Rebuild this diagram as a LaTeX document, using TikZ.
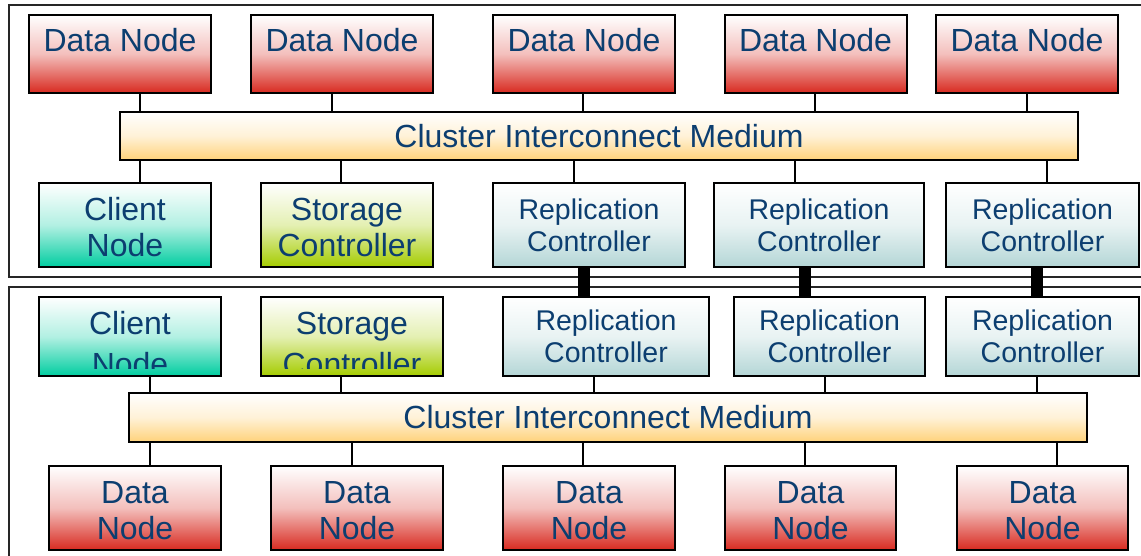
\documentclass[tikz,border=0pt]{standalone}
\usepackage{fontspec}
\setmainfont{Liberation Sans}
\usetikzlibrary{positioning}

\definecolor{ink}{RGB}{12,62,112}
\definecolor{dnred}{RGB}{216,42,32}
\definecolor{clientgreen}{RGB}{0,205,160}
\definecolor{storgreen}{RGB}{165,204,0}
\definecolor{repblue}{RGB}{180,214,214}
\definecolor{busorange}{RGB}{255,210,122}

\newcommand\boxfont{\fontsize{16}{18}\selectfont}
\newcommand\loosefont{\fontsize{16}{20.5}\selectfont}
\newcommand\repfont{\fontsize{14.25}{16}\selectfont}

\begin{document}
\begin{tikzpicture}[
        x=0.5pt, y=0.5pt,
        box/.style={draw, rectangle, line width=1pt, inner sep=0pt, align=center, text=ink, font=\boxfont},
        grad/.style={top color=white, bottom color=#1, middle color=#1!30},
        datanode/.style={box, grad=dnred, minimum width=86pt, minimum height=42pt, text height=32.1pt},
        datatop/.style={box, grad=dnred, minimum width=91pt, text height=18.5pt, text depth=20.5pt},
        client/.style={box, grad=clientgreen, text height=32.1pt},
        storage/.style={box, grad=storgreen, text height=32.1pt},
        repl/.style={box, grad=repblue, font=\repfont},
        bus/.style={box, grad=busorange, minimum width=479pt},
        txt/.style={inner sep=0pt, align=center, text=ink, font=\loosefont},
        frame/.style={draw=black!85, line width=1pt},
        link/.style={line width=0.7pt},
        sync/.style={line width=6pt}
    ]
        \clip (0,0) rectangle (1141,556);

        % Upper cluster
        \draw[frame] (9,551) rectangle (1170,279);
        \node[datatop] (dt1) at (120,502) {Data Node};
        \node[datatop] (dt2) at (342,502) {Data Node};
        \node[datatop] (dt3) at (584,502) {Data Node};
        \node[datatop] (dt4) at (815.5,502) {Data Node};
        \node[datatop] (dt5) at (1027,502) {Data Node};
        \node[bus, minimum height=24pt] (ict) at (599,420) {Cluster Interconnect Medium};
        \node[client, minimum width=86pt, minimum height=42pt] (ct) at (125,331) {Client\\Node};
        \node[storage, minimum width=86pt, minimum height=42pt] (st) at (347,331) {Storage\\Controller};
        \node[repl, minimum width=96pt, minimum height=42pt] (rt1) at (589,331) {Replication\\Controller};
        \node[repl, minimum width=105pt, minimum height=42pt] (rt2) at (819,331) {Replication\\Controller};
        \node[repl, minimum width=96.5pt, minimum height=42pt] (rt3) at (1042.5,331) {Replication\\Controller};

        \foreach \n/\x in {dt1/140, dt2/332, dt3/583, dt4/815, dt5/1027}
            \draw[link] (\n.south -| \x,0) -- (ict.north -| \x,0);
        \foreach \n/\x in {ct/140, st/341, rt1/574, rt2/795, rt3/1047}
            \draw[link] (ict.south -| \x,0) -- (\n.north -| \x,0);

        % Lower cluster
        \draw[frame] (9,269) rectangle (1170,-20);
        \node[client, minimum width=91pt, minimum height=39.5pt] (cb) at (130,219.5) {};
        \node[storage, minimum width=91pt, minimum height=39.5pt] (sb) at (352,219.5) {};
        \node[repl, minimum width=103pt, minimum height=39.5pt] (rb1) at (606,219.5) {Replication\\Controller};
        \node[repl, minimum width=95.5pt, minimum height=39.5pt] (rb2) at (829.5,219.5) {Replication\\Controller};
        \node[repl, minimum width=96.5pt, minimum height=39.5pt] (rb3) at (1042.5,219.5) {Replication\\Controller};
        \node[bus, minimum height=24.5pt] (icb) at (608,138.5) {Cluster Interconnect Medium};
        \node[datanode] (db1) at (135,48) {Data\\Node};
        \node[datanode] (db2) at (357,48) {Data\\Node};
        \node[datanode] (db3) at (589,48) {Data\\Node};
        \node[datanode, minimum width=85.5pt] (db4) at (810.5,48) {Data\\Node};
        \node[datanode, minimum width=85.5pt] (db5) at (1042.5,48) {Data\\Node};

        % text runs past the bottom of these two boxes
        \foreach \n/\t in {cb/{Client\\Node}, sb/{Storage\\Controller}} {
            \begin{scope}
                \clip (\n.north west) rectangle ([yshift=4pt]\n.south east);
                \node[txt] (\n t) at ([yshift=-3.75pt]\n.center) {\t};
            \end{scope}
        }

        \foreach \n/\x in {cb/150, sb/341, rb1/594, rb2/825, rb3/1037}
            \draw[link] (\n.south -| \x,0) -- (icb.north -| \x,0);
        \foreach \n/\x in {db1/150, db2/352, db3/583, db4/805, db5/1057}
            \draw[link] (icb.south -| \x,0) -- (\n.north -| \x,0);

        % Replication links between the clusters
        \foreach \x [count=\i] in {584, 805, 1037}
            \draw[sync] (rt\i.south -| \x,0) -- (rb\i.north -| \x,0);
    \end{tikzpicture}
\end{document}
